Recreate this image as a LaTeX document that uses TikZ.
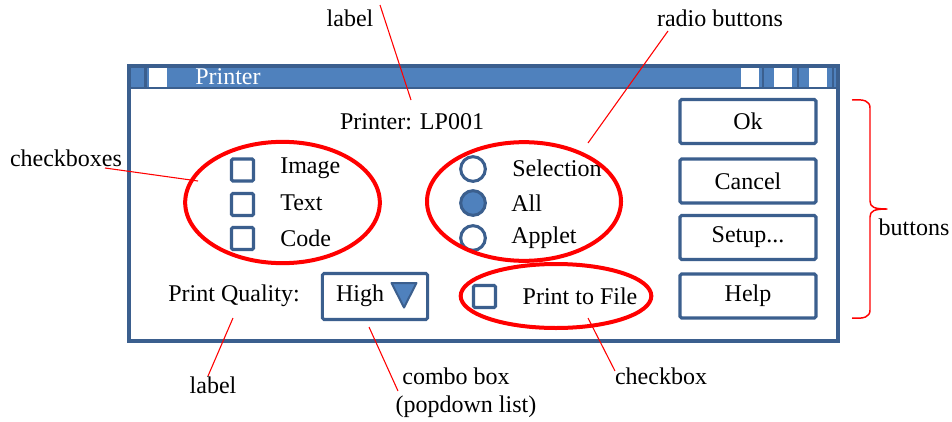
\documentclass[tikz,border=0pt]{standalone}
\usepackage{fontspec}
\setmainfont{Liberation Serif}
\usetikzlibrary{shapes.geometric}
\definecolor{winblue}{HTML}{4F81BD}
\definecolor{windark}{HTML}{3B5F8E}
\definecolor{markred}{HTML}{FF0000}

\begin{document}
\begin{tikzpicture}[x=0.75pt,y=-0.75pt,
  font=\fontsize{18}{21}\selectfont,
  frameline/.style={draw=windark, line width=3pt},
  pushbtn/.style={draw=windark, line width=2.3pt, rounded corners=1.2pt, fill=white,
    minimum width=102pt, minimum height=33pt, inner sep=0pt},
  chkbox/.style={draw=windark, line width=2.3pt, rounded corners=1pt, fill=white,
    minimum size=16.5pt, inner sep=0pt},
  radio/.style={circle, draw=windark, line width=2.3pt, fill=white,
    minimum size=18.5pt, inner sep=0pt},
  radioon/.style={radio, fill=winblue},
  lbl/.style={anchor=west, inner sep=0pt},
  callout/.style={ellipse, draw=markred, line width=3pt, inner sep=0pt},
  note/.style={inner sep=0pt, text=black},
  pointer/.style={draw=markred, line width=0.8pt},
  titlesq/.style={fill=white, draw=none, minimum width=13.5pt, minimum height=14pt, inner sep=0pt}
]
\useasboundingbox (0,0) rectangle (952,421);

% ---- window frame and title bar ----
\fill[white] (129,66) rectangle (838,341);
\fill[winblue] (129,66) rectangle (838,88);
\draw[windark, line width=2pt] (129,88) -- (838,88);
\draw[windark, line width=2pt] (145.5,66) -- (145.5,88);
\foreach \xx in {763,798,833} \draw[windark, line width=2pt] (\xx,66) -- (\xx,88);
\draw[frameline] (129,66) rectangle (838,341);
\node[titlesq] (sysbox) at (158,77.5) {};
\node[titlesq] (minbox) at (749.5,77.5) {};
\node[titlesq] (maxbox) at (783,77.5) {};
\node[titlesq] (closebox) at (817.5,77.5) {};
\node[lbl, text=white] (title) at (195,77) {Printer};

% ---- labels ----
\node[note] (printer) at (412,122) {Printer: LP001};
\node[note] (quality) at (234,296) {Print Quality:};

% ---- checkboxes ----
\node[chkbox] (cbimage) at (242.5,170) {};
\node[chkbox] (cbtext) at (242.5,204.5) {};
\node[chkbox] (cbcode) at (242.5,238.5) {};
\node[lbl] (timage) at (280,168) {Image};
\node[lbl] (ttext) at (280,203) {Text};
\node[lbl] (tcode) at (280,238) {Code};

% ---- radio buttons ----
\node[radio] (rbsel) at (473,169) {};
\node[radioon] (rball) at (473,203) {};
\node[radio] (rbapp) at (473,238) {};
\node[lbl] (tsel) at (512,168) {Selection};
\node[lbl] (tall) at (511,203) {All};
\node[lbl] (tapp) at (511,238) {Applet};

% ---- combo box ----
\node[draw=windark, line width=2.3pt, rounded corners=1.2pt, fill=white,
  minimum width=79pt, minimum height=34.5pt, inner sep=0pt] (combo) at (375,296.5) {};
\node[note] (thigh) at (360,296) {High};
\fill[winblue, draw=windark, line width=1.5pt, line join=round]
  (391.5,283) -- (416.5,283) -- (404,307.5) -- cycle;

% ---- print to file ----
\node[chkbox] (cbfile) at (484.5,296.5) {};
\node[note] (tfile) at (580,296) {Print to File};

% ---- push buttons ----
\node[pushbtn] (bok) at (748,121.5) {Ok};
\node[pushbtn] (bcancel) at (748,181) {Cancel};
\node[pushbtn] (bsetup) at (748,237.5) {Setup...};
\node[pushbtn] (bhelp) at (748,296) {Help};

% ---- red call-out ellipses ----
\node[callout, minimum width=146pt, minimum height=91pt] (ringcb) at (282.5,202.5) {};
\node[callout, minimum width=145.5pt, minimum height=89pt] (ringrb) at (524,201.5) {};
\node[callout, minimum width=143pt, minimum height=48pt] (ringfile) at (556,296) {};

% ---- annotations ----
\node[note] (nlabeltop) at (350,18) {label};
\node[note] (nradio) at (720,18) {radio buttons};
\node[note] (ncheck) at (66,158) {checkboxes};
\node[note] (nbuttons) at (914,227) {buttons};
\node[note] (nlabelbot) at (213,385) {label};
\node[note] (ncombo) at (456,376) {combo box};
\node[note] (npop) at (466,407) {(popdown list)};
\node[note] (ncheckbox) at (661,376) {checkbox};

\coordinate (pLabelTop) at (380,5);
\coordinate (pPrinter) at (411,100);
\coordinate (pRadioTxt) at (668,31);
\coordinate (pRadioRing) at (588,143);
\coordinate (pCheckTxt) at (105,168);
\coordinate (pCheckRing) at (198,181);
\coordinate (pLabelBot) at (208,376);
\coordinate (pQuality) at (233,318);
\coordinate (pComboTop) at (369,327);
\coordinate (pComboTxt) at (398,391);
\coordinate (pFileRing) at (588,318);
\coordinate (pCheckboxTxt) at (615,371);

\draw[pointer] (pLabelTop) -- (pPrinter);
\draw[pointer] (pRadioTxt) -- (pRadioRing);
\draw[pointer] (pCheckTxt) -- (pCheckRing);
\draw[pointer] (pLabelBot) -- (pQuality);
\draw[pointer] (pComboTop) -- (pComboTxt);
\draw[pointer] (pFileRing) -- (pCheckboxTxt);

% ---- brace grouping the buttons ----
\coordinate (braceTop) at (852,100);
\coordinate (braceTip) at (887,209);
\coordinate (braceBot) at (852,318);
\draw[markred, line width=1.1pt, line join=round]
  (braceTop) .. controls (864,99) and (870,101) .. (870,108)
  -- (870,201) .. controls (870,207) and (874,209) .. (braceTip)
  .. controls (874,209) and (870,211) .. (870,217)
  -- (870,310) .. controls (870,317) and (864,319) .. (braceBot);
\end{tikzpicture}
\end{document}
